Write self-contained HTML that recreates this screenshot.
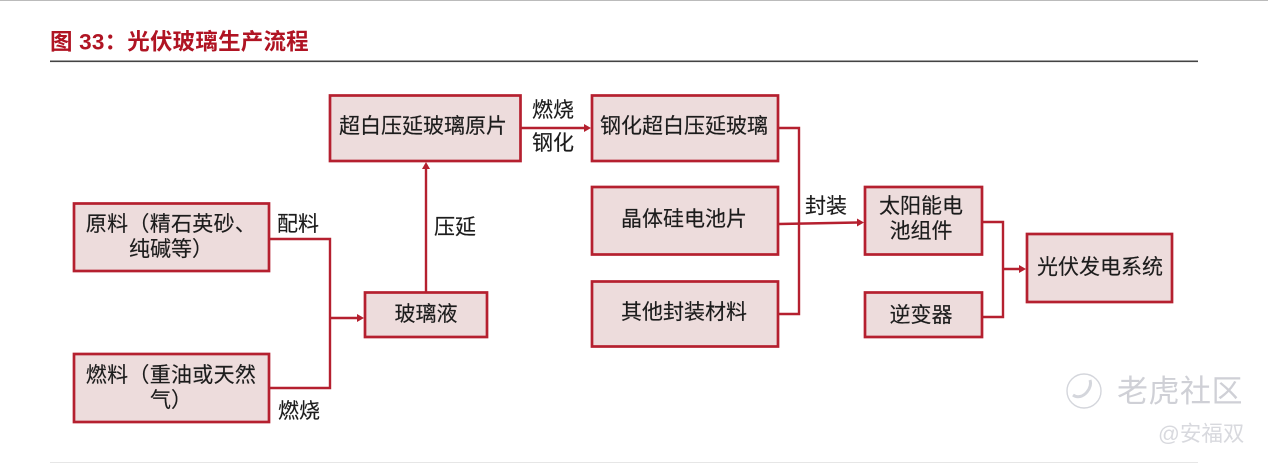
<!DOCTYPE html>
<html lang="zh">
<head>
<meta charset="utf-8">
<style>
html,body{margin:0;padding:0;background:#fff;width:1268px;height:463px;overflow:hidden}
svg{display:block;filter:blur(0.35px)}
text{font-family:"Liberation Sans","Noto Sans CJK SC",sans-serif}
.b{fill:#eddcdc;stroke:#b5202f;stroke-width:2.7}
.l{fill:none;stroke:#b5202f;stroke-width:2.4}
.a{fill:#b5202f}
.t{font-size:21px;fill:#1c1c1c;text-anchor:middle;stroke:#1c1c1c;stroke-width:0.15}
</style>
</head>
<body>
<svg width="1268" height="463" viewBox="0 0 1268 463" xmlns="http://www.w3.org/2000/svg">
<rect x="0" y="0" width="1268" height="1" fill="#bbb"/>
<text x="50" y="49.500" font-size="22.500" font-weight="700" fill="#b01423" letter-spacing="0.200">图 33：光伏玻璃生产流程</text>
<rect x="50" y="60.500" width="1148" height="1.600" fill="#444"/>
<rect x="50" y="462" width="1148" height="1" fill="#e6e6e6"/>

<!-- connectors -->
<path class="l" d="M270 239H330V388H270"/>
<path class="l" d="M330 318H358"/>
<polygon class="a" points="364,318 357,314 357,322"/>
<path class="l" d="M426 292V168"/>
<polygon class="a" points="426,162 422,169 430,169"/>
<path class="l" d="M521 128H585"/>
<polygon class="a" points="591,128 584,124 584,132"/>
<path class="l" d="M779 128H799V314H779"/>
<path class="l" d="M779 224L858 222.500"/>
<polygon class="a" points="864,222.500 857,218.500 857,226.500"/>
<path class="l" d="M983 222H1003V317H983"/>
<path class="l" d="M1003 269H1020"/>
<polygon class="a" points="1026,269 1019,265 1019,273"/>

<!-- boxes -->
<rect class="b" x="330" y="95.500" width="190.500" height="65.500"/>
<rect class="b" x="74" y="203.500" width="195" height="67.500"/>
<rect class="b" x="74" y="354" width="195" height="68"/>
<rect class="b" x="365" y="292.500" width="122" height="44.500"/>
<rect class="b" x="592" y="95.500" width="186" height="65.500"/>
<rect class="b" x="592" y="187" width="186" height="67.500"/>
<rect class="b" x="592" y="281.500" width="186" height="65"/>
<rect class="b" x="865" y="187" width="117" height="67.500"/>
<rect class="b" x="865" y="292.500" width="117" height="44.500"/>
<rect class="b" x="1027" y="234" width="145" height="68"/>

<!-- box labels -->
<text class="t" x="423" y="133">超白压延玻璃原片</text>
<text class="t" x="171" y="231" letter-spacing="0.300">原料（精石英砂、</text>
<text class="t" x="171" y="256">纯碱等）</text>
<text class="t" x="171" y="382" letter-spacing="0.300">燃料（重油或天然</text>
<text class="t" x="171" y="407">气）</text>
<text class="t" x="426" y="321">玻璃液</text>
<text class="t" x="684" y="133">钢化超白压延玻璃</text>
<text class="t" x="684" y="226">晶体硅电池片</text>
<text class="t" x="684" y="319">其他封装材料</text>
<text class="t" x="921" y="213">太阳能电</text>
<text class="t" x="921" y="238">池组件</text>
<text class="t" x="921" y="322">逆变器</text>
<text class="t" x="1100" y="274">光伏发电系统</text>

<!-- connector labels -->
<text class="t" x="298" y="231">配料</text>
<text class="t" x="299" y="418">燃烧</text>
<text class="t" x="455" y="234">压延</text>
<text class="t" x="553" y="117">燃烧</text>
<text class="t" x="553" y="150">钢化</text>
<text class="t" x="826" y="213">封装</text>

<!-- watermark -->
<g fill="none" stroke="#d4d6dc" stroke-width="1.400">
<circle cx="1084" cy="391" r="17"/>
<path d="M1073 395c4 3 10 2 14-3s4-9 3-12" stroke-width="3"/>
</g>
<text x="1117" y="402" font-size="31" fill="#cfd0d6" letter-spacing="0.500">老虎社区</text>
<text x="1158" y="441" font-size="21.500" fill="#d8d9de">@安福双</text>
</svg>
</body>
</html>
